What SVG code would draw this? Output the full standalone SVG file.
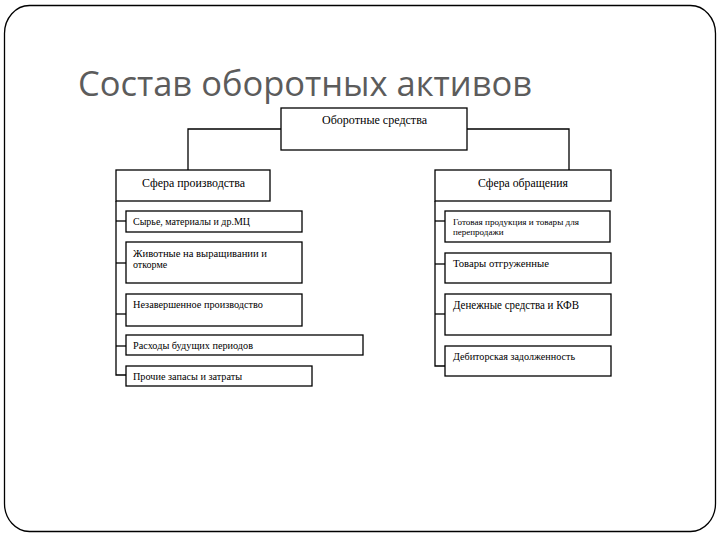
<svg xmlns="http://www.w3.org/2000/svg" width="720" height="540" viewBox="0 0 720 540">
<style>
.box{fill:#fff;stroke:#000;stroke-width:1.3}
.ln{fill:none;stroke:#000;stroke-width:1.3}
.lbl{font-family:"Liberation Serif","DejaVu Serif",serif;font-size:10px;fill:#000}
.hd{font-family:"Liberation Serif","DejaVu Serif",serif;font-size:12px;fill:#000}
.title{font-family:"Open Sans","Liberation Sans",sans-serif;font-size:34px;fill:#5c5c5c}
</style>
<rect x="0" y="0" width="720" height="540" fill="#fff"/>
<rect x="4.5" y="5.5" width="711" height="526" rx="25" ry="28" fill="none" stroke="#000" stroke-width="1.3"/>
<text class="title" x="78" y="96" textLength="454" lengthAdjust="spacingAndGlyphs">Состав оборотных активов</text>
<g id="connectors">
<polyline class="ln" points="467,129 569,129 569,170"/>
<polyline class="ln" points="281,129 188,129 188,170"/>
<polyline class="ln" points="116,201 116,375 126,375"/>
<line class="ln" x1="116" y1="221" x2="126" y2="221"/>
<line class="ln" x1="116" y1="263" x2="126" y2="263"/>
<line class="ln" x1="116" y1="314" x2="126" y2="314"/>
<line class="ln" x1="116" y1="346" x2="126" y2="346"/>
<polyline class="ln" points="435,201 435,366 445,366"/>
<line class="ln" x1="435" y1="221" x2="445" y2="221"/>
<line class="ln" x1="435" y1="264" x2="445" y2="264"/>
<line class="ln" x1="435" y1="314" x2="445" y2="314"/>
</g>
<g id="n-root">
<rect class="box" x="281" y="108" width="186" height="42"/>
<text class="hd" x="322" y="124" font-family="Liberation Serif, serif" style="font-size:11.5px" textLength="105" lengthAdjust="spacingAndGlyphs">Оборотные средства</text>
</g>
<g id="n-prod">
<rect class="box" x="116" y="170" width="154" height="31"/>
<text class="hd" x="142" y="187" textLength="103" lengthAdjust="spacingAndGlyphs">Сфера производства</text>
</g>
<g id="n-obr">
<rect class="box" x="435" y="170" width="176" height="31"/>
<text class="hd" x="478" y="187" textLength="90" lengthAdjust="spacingAndGlyphs">Сфера обращения</text>
</g>
<g id="n-syr">
<rect class="box" x="126" y="211" width="176" height="21"/>
<text class="lbl" x="133" y="225" textLength="117" lengthAdjust="spacingAndGlyphs">Сырье, материалы и др.МЦ</text>
</g>
<g id="n-zhiv">
<rect class="box" x="126" y="242" width="176" height="41"/>
<text class="lbl" x="133" y="257" textLength="134" lengthAdjust="spacingAndGlyphs">Животные на выращивании и</text>
<text class="lbl" x="133" y="268">откорме</text>
</g>
<g id="n-nezav">
<rect class="box" x="126" y="294" width="176" height="32"/>
<text class="lbl" x="133" y="308" textLength="130" lengthAdjust="spacingAndGlyphs">Незавершенное производство</text>
</g>
<g id="n-rash">
<rect class="box" x="126" y="335" width="237" height="20"/>
<text class="lbl" x="133" y="349" textLength="120" lengthAdjust="spacingAndGlyphs">Расходы будущих периодов</text>
</g>
<g id="n-proch">
<rect class="box" x="126" y="366" width="186" height="20"/>
<text class="lbl" x="133" y="380" textLength="109" lengthAdjust="spacingAndGlyphs">Прочие запасы и затраты</text>
</g>
<g id="n-gotov">
<rect class="box" x="445" y="211" width="165" height="31"/>
<text class="lbl" x="453" y="225" style="font-size:9px" textLength="126" lengthAdjust="spacingAndGlyphs">Готовая продукция и товары для</text>
<text class="lbl" x="453" y="235" style="font-size:9px">перепродажи</text>
</g>
<g id="n-otgr">
<rect class="box" x="445" y="253" width="166" height="30"/>
<text class="lbl" x="453" y="267" style="font-size:10.5px" textLength="96" lengthAdjust="spacingAndGlyphs">Товары отгруженные</text>
</g>
<g id="n-den">
<rect class="box" x="445" y="294" width="166" height="41"/>
<text class="lbl" x="453" y="309" style="font-size:11.5px" textLength="126" lengthAdjust="spacingAndGlyphs">Денежные средства и КФВ</text>
</g>
<g id="n-deb">
<rect class="box" x="445" y="346" width="166" height="30"/>
<text class="lbl" x="453" y="360" textLength="122" lengthAdjust="spacingAndGlyphs">Дебиторская задолженность</text>
</g>
</svg>
